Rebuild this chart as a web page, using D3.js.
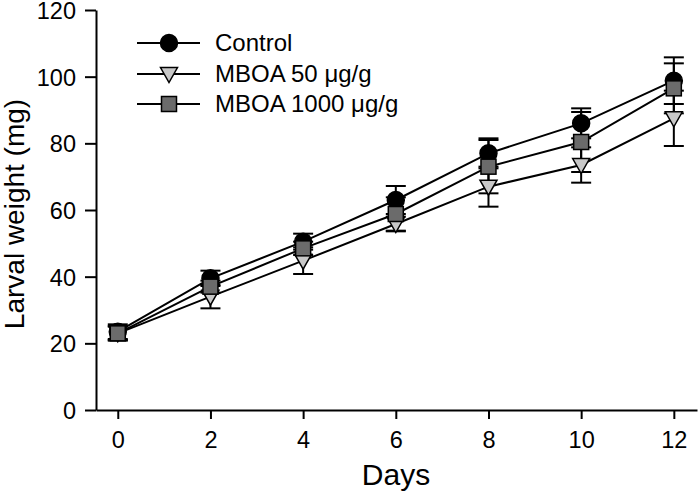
<!DOCTYPE html>
<html><head><meta charset="utf-8">
<script src="https://cdn.jsdelivr.net/npm/d3@7"></script>
<style>body{margin:0;background:#fff;}svg{display:block;font-family:"Liberation Sans",Arial,sans-serif;}</style>
</head><body>
<script>
const days = [0, 2, 4, 6, 8, 10, 12];
const controlMean = [23.5, 39.5, 50.5, 63, 77, 86, 98.8];
const controlErr  = [2.2, 2.3, 2.4, 4.2, 4.5, 4.5, 7];
const mboa50Mean  = [23, 34, 44.8, 55.8, 67, 73.5, 87.5];
const mboa50Err   = [2.2, 3.5, 4, 2.2, 6, 5.3, 8.3];
const mboa1000Mean = [23, 37, 48.5, 58.8, 73, 80.4, 96.5];
const mboa1000Err  = [2, 1.8, 2, 5, 8, 9, 7.5];
const yTicks = [0, 20, 40, 60, 80, 100, 120];
const xTicks = [0, 2, 4, 6, 8, 10, 12];
const seriesNames = ["Control", "MBOA 50 μg/g", "MBOA 1000 μg/g"];

const W = 699, H = 493;
const svg = d3.select("body").append("svg").attr("width", W).attr("height", H);
const x = d3.scaleLinear().domain([-0.47, 12.5]).range([96, 697]);
const y = d3.scaleLinear().domain([0, 120]).range([410, 10]);

const series = [
  {name: seriesNames[0], mean: controlMean, err: controlErr, shape: "circle", fill: "#000"},
  {name: seriesNames[1], mean: mboa50Mean, err: mboa50Err, shape: "triangle", fill: "#c8c8c8"},
  {name: seriesNames[2], mean: mboa1000Mean, err: mboa1000Err, shape: "square", fill: "#6b6b6b"}
];

// axes
const yAxis = svg.append("g").attr("transform", "translate(96,0)")
  .call(d3.axisLeft(y).tickValues(yTicks).tickSize(11).tickPadding(9).tickSizeOuter(0));
const xAxis = svg.append("g").attr("transform", "translate(0,410)")
  .call(d3.axisBottom(x).tickValues(xTicks).tickSize(9).tickPadding(12).tickSizeOuter(0));
[yAxis, xAxis].forEach(a => {
  a.select(".domain").attr("stroke", "#000").attr("stroke-width", 2);
  a.selectAll(".tick line").attr("stroke", "#000").attr("stroke-width", 2);
  a.selectAll(".tick text").attr("font-size", 23.5).attr("fill", "#000")
   .attr("font-family", "Liberation Sans, Arial, sans-serif");
});
yAxis.selectAll(".tick text").attr("dy", "0.36em");

svg.append("text").attr("x", 396).attr("y", 485).attr("text-anchor", "middle")
  .attr("font-size", 30).text("Days");
svg.append("text").attr("transform", "translate(24,214) rotate(-90)")
  .attr("text-anchor", "middle").attr("font-size", 28).text("Larval weight (mg)");

function marker(g, shape, fill) {
  if (shape === "circle") {
    g.append("circle").attr("r", 8.5).attr("fill", fill).attr("stroke", "#000").attr("stroke-width", 1.5);
  } else if (shape === "square") {
    g.append("rect").attr("x", -7.5).attr("y", -7.5).attr("width", 15).attr("height", 15)
      .attr("fill", fill).attr("stroke", "#000").attr("stroke-width", 1.5);
  } else {
    g.append("path").attr("d", "M-8.5,-6.5L8.5,-6.5L0,8.5Z")
      .attr("fill", fill).attr("stroke", "#000").attr("stroke-width", 1.5);
  }
}

const line = d3.line().x(d => x(d[0])).y(d => y(d[1]));
// lines and error bars first
series.forEach(s => {
  const pts = days.map((d, i) => [d, s.mean[i]]);
  svg.append("path").attr("d", line(pts)).attr("fill", "none").attr("stroke", "#000").attr("stroke-width", 2);
  const eb = svg.append("g");
  days.forEach((d, i) => {
    const cx = x(d), top = y(s.mean[i] + s.err[i]), bot = y(s.mean[i] - s.err[i]);
    eb.append("line").attr("x1", cx).attr("x2", cx).attr("y1", top).attr("y2", bot).attr("stroke", "#000").attr("stroke-width", 2);
    [top, bot].forEach(yy => eb.append("line").attr("x1", cx - 10).attr("x2", cx + 10).attr("y1", yy).attr("y2", yy).attr("stroke", "#000").attr("stroke-width", 2));
  });
});
series.forEach(s => {
  days.forEach((d, i) => {
    const g = svg.append("g").attr("transform", `translate(${x(d)},${y(s.mean[i])})`);
    marker(g, s.shape, s.fill);
  });
});

// legend
const legY = [43, 74, 104];
series.forEach((s, i) => {
  const g = svg.append("g").attr("transform", `translate(0,${legY[i]})`);
  g.append("line").attr("x1", 137).attr("x2", 200).attr("y1", 0).attr("y2", 0).attr("stroke", "#000").attr("stroke-width", 2);
  const m = g.append("g").attr("transform", "translate(169,0)");
  marker(m, s.shape, s.fill);
  g.append("text").attr("x", 215).attr("y", 0).attr("dy", "0.35em").attr("font-size", 24).text(s.name);
});
</script>
</body></html>
